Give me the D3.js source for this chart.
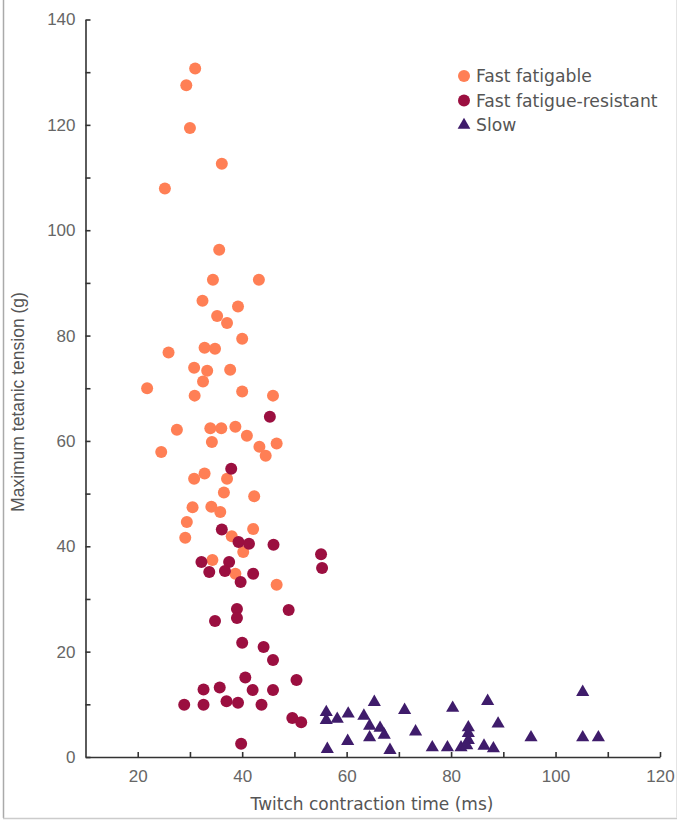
<!DOCTYPE html>
<html>
<head>
<meta charset="utf-8">
<script src="https://cdn.jsdelivr.net/npm/d3@7"></script>
<style>
  body { margin: 0; background: #fff; }
  text { font-family: "Liberation Sans", Arial, sans-serif; }
</style>
</head>
<body>
<div id="chart"></div>
<script>
// motor unit types, twitch time (ms) vs max tetanic tension (g)
const seriesNames = ["Fast fatigable", "Fast fatigue-resistant", "Slow"];

const ffTime = [31.0, 29.3, 30.0, 36.1, 25.2, 35.6, 34.4, 43.2, 32.4, 39.2, 35.2, 37.1, 40.0, 25.9, 32.8,
  34.8, 30.8, 33.3, 37.7, 32.5, 21.8, 30.9, 40.0, 45.9, 27.5, 33.9, 36.0, 38.7, 40.9, 34.2, 43.3, 46.6,
  24.5, 44.5, 32.8, 30.8, 37.1, 36.5, 42.3, 30.5, 34.1, 35.8, 29.4, 29.1, 38.0, 42.1, 40.2, 34.3, 38.7, 46.6];
const ffTension = [130.7, 127.5, 119.4, 112.6, 107.9, 96.3, 90.6, 90.6, 86.6, 85.5, 83.7, 82.4, 79.4, 76.8, 77.7,
  77.5, 73.9, 73.3, 73.5, 71.3, 70.0, 68.6, 69.4, 68.6, 62.1, 62.4, 62.4, 62.7, 61.0, 59.8, 58.9, 59.5,
  57.9, 57.2, 53.8, 52.8, 52.8, 50.2, 49.5, 47.4, 47.5, 46.5, 44.6, 41.6, 41.9, 43.3, 38.9, 37.4, 34.8, 32.7];

const frTime = [45.3, 37.9, 36.1, 39.3, 41.3, 46.0, 55.1, 55.3, 32.2, 37.5, 33.7, 36.7, 42.1, 39.7, 39.0,
  39.0, 48.9, 34.8, 40.0, 44.1, 45.9, 40.6, 50.4, 32.6, 35.7, 42.0, 45.9, 28.9, 32.6, 37.0, 39.2, 43.7,
  49.6, 51.3, 39.8];
const frTension = [64.6, 54.7, 43.2, 40.8, 40.5, 40.3, 38.5, 35.9, 37.0, 37.0, 35.1, 35.3, 34.8, 33.2, 28.1,
  26.4, 27.9, 25.8, 21.7, 20.9, 18.4, 15.1, 14.6, 12.8, 13.2, 12.7, 12.7, 9.9, 9.9, 10.6, 10.3, 9.9,
  7.4, 6.6, 2.5];

const slTime = [56.1, 56.1, 58.2, 60.3, 56.3, 60.2, 63.3, 65.3, 64.4, 64.4, 66.4, 67.2, 68.3, 71.1, 73.2,
  76.4, 79.3, 80.3, 81.9, 83.3, 83.3, 83.3, 83.0, 86.3, 87.0, 88.1, 89.0, 95.3, 105.2, 105.2, 108.2];
const slTension = [8.5, 7.0, 7.2, 8.2, 1.5, 3.0, 7.8, 10.4, 5.9, 3.7, 5.5, 4.2, 1.3, 8.9, 4.8,
  1.8, 1.8, 9.3, 1.8, 5.6, 4.5, 3.2, 2.2, 2.1, 10.6, 1.6, 6.3, 3.7, 12.3, 3.7, 3.7];

const xTicks = [20, 30, 40, 50, 60, 70, 80, 90, 100, 110, 120];
const yTicks = [0, 10, 20, 30, 40, 50, 60, 70, 80, 90, 100, 110, 120, 130, 140];

const colors = ["#ff7f55", "#9b0f40", "#3f1c6b"];

const W = 677, H = 821;
const svg = d3.select("#chart").append("svg").attr("width", W).attr("height", H);

// light frame round the figure
svg.append("line").attr("x1", 3.5).attr("x2", 3.5).attr("y1", 0).attr("y2", 818)
  .attr("stroke", "#aaa").attr("stroke-width", 1.5);
svg.append("line").attr("x1", 3).attr("x2", 677).attr("y1", 818.5).attr("y2", 818.5)
  .attr("stroke", "#ccc").attr("stroke-width", 1.5);
svg.append("line").attr("x1", 676.5).attr("x2", 676.5).attr("y1", 0).attr("y2", 818)
  .attr("stroke", "#e4e4e4").attr("stroke-width", 1);

const x = d3.scaleLinear().domain([10, 120]).range([85.5, 660]);
const y = d3.scaleLinear().domain([0, 140]).range([757, 19.5]);

const xAxis = svg.append("g").attr("transform", "translate(0,757)")
  .call(d3.axisBottom(x).tickValues(xTicks).tickSize(-5).tickSizeOuter(0).tickPadding(13)
    .tickFormat(d => d % 20 === 0 ? d : ""));
const yAxis = svg.append("g").attr("transform", "translate(85.5,0)")
  .call(d3.axisLeft(y).tickValues(yTicks).tickSize(-5).tickSizeOuter(0).tickPadding(10)
    .tickFormat(d => d % 20 === 0 ? d : ""));

[xAxis, yAxis].forEach(g => {
  g.select(".domain").attr("stroke", "#333").attr("stroke-width", 1.6);
  g.selectAll(".tick line").attr("stroke", "#333").attr("stroke-width", 1.6);
  g.selectAll(".tick text").attr("fill", "#666").style("font-size", "17px");
});

svg.append("text").attr("x", 372).attr("y", 810).attr("text-anchor", "middle")
  .attr("fill", "#555").style("font-family", "'DejaVu Sans', sans-serif").style("font-size", "17px")
  .text("Twitch contraction time (ms)");
svg.append("text").attr("transform", "translate(24,402) rotate(-90)").attr("text-anchor", "middle")
  .attr("fill", "#555").style("font-size", "17.5px").text("Maximum tetanic tension (g)");

const ff = ffTime.map((t, i) => ({ t, v: ffTension[i] }));
const fr = frTime.map((t, i) => ({ t, v: frTension[i] }));
const sl = slTime.map((t, i) => ({ t, v: slTension[i] }));

const pts = svg.append("g");
pts.selectAll(".ff").data(ff).enter().append("circle").attr("class", "ff")
  .attr("cx", d => x(d.t)).attr("cy", d => y(d.v)).attr("r", 6).attr("fill", colors[0]);
pts.selectAll(".fr").data(fr).enter().append("circle").attr("class", "fr")
  .attr("cx", d => x(d.t)).attr("cy", d => y(d.v)).attr("r", 6).attr("fill", colors[1]);

const tri = d3.symbol().type(d3.symbolTriangle).size(75);
pts.selectAll(".sl").data(sl).enter().append("path").attr("class", "sl")
  .attr("d", tri).attr("transform", d => `translate(${x(d.t)},${y(d.v)})`).attr("fill", colors[2]);

// legend
const leg = svg.append("g").attr("transform", "translate(464,76)");
seriesNames.forEach((name, i) => {
  const row = leg.append("g").attr("transform", `translate(0,${i * 24.5})`);
  if (i < 2) row.append("circle").attr("r", 6).attr("fill", colors[i]);
  else row.append("path").attr("d", d3.symbol().type(d3.symbolTriangle).size(70)).attr("fill", colors[i]);
  row.append("text").attr("x", 12).attr("y", 6).attr("fill", "#555")
    .style("font-family", "'DejaVu Sans', sans-serif").style("font-size", "17.2px").text(name);
});
</script>
</body>
</html>
